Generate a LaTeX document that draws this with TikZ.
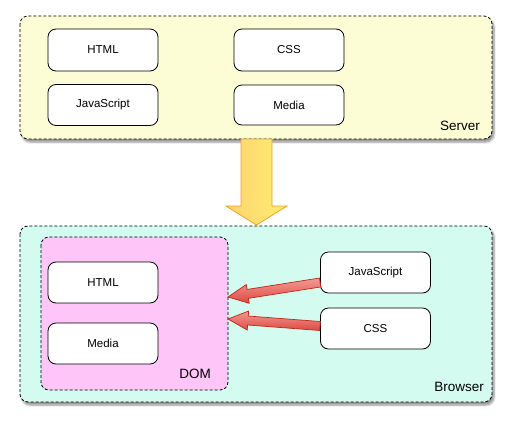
\documentclass[tikz,border=0pt]{standalone}
\usepackage{fontspec}
\setmainfont{Liberation Sans}
\usetikzlibrary{calc,shadows.blur}
\definecolor{serverfill}{HTML}{FDFDD5}
\definecolor{browserfill}{HTML}{D3FBEF}
\definecolor{domfill}{HTML}{FDC5F8}
\definecolor{arrowedge}{HTML}{F0A020}
\definecolor{arrowleft}{HTML}{FDD470}
\definecolor{arrowright}{HTML}{FFEC70}
\definecolor{redtop}{HTML}{F49A94}
\definecolor{redbot}{HTML}{DC4A42}
\definecolor{rededge}{HTML}{C02818}
\tikzset{
  dashedbox/.style={draw=black, line width=0.8pt, dash pattern=on 3pt off 2pt, rounded corners=8pt},
  container/.style={dashedbox, blur shadow={shadow xshift=2pt, shadow yshift=-3pt, shadow blur steps=6, shadow opacity=45}},
  item/.style={draw=black, line width=0.8pt, fill=white, rounded corners=8pt,
    minimum width=110pt, inner sep=0pt, font=\fontsize{11.5}{13}\selectfont},
  boxlabel/.style={anchor=base east, inner sep=0pt, font=\fontsize{13.5}{15}\selectfont},
  fatred/.style={draw=rededge, line width=0.7pt, top color=redtop, bottom color=redbot, line join=miter},
}
\begin{document}
\begin{tikzpicture}[x=1pt,y=-1pt]
\useasboundingbox (0,0) rectangle (512,426);
% Server
\path[container, fill=serverfill] (20,16) rectangle (492,139);
\node[boxlabel] (slabel) at (480,130) {Server};
\node[item, minimum height=42pt] (shtml) at (103,50) {HTML};
\node[item, minimum height=41pt] (sjs) at (103,105) {JavaScript};
\node[item, minimum height=42pt] (scss) at (289,50) {CSS};
\node[item, minimum height=40pt] (smedia) at (289,105) {Media};
% Browser
\path[container, fill=browserfill] (20,226) rectangle (492,402);
\node[boxlabel] (blabel) at (484,391) {Browser};
\path[dashedbox, fill=domfill] (41,237) rectangle (228,390);
\coordinate (domeast) at (228,313);
\node[boxlabel] (dlabel) at (211,378) {DOM};
\node[item, minimum height=41pt] (dhtml) at (103,282.5) {HTML};
\node[item, minimum height=41pt] (dmedia) at (103,343.5) {Media};
\node[item, minimum height=41pt] (bjs) at (375.5,272.5) {JavaScript};
\node[item, minimum height=41pt] (bcss) at (375.5,328.5) {CSS};
% big down arrow
\coordinate (bigtop) at (256.5,139);
\coordinate (bigtip) at (256.5,225);
\path[draw=arrowedge, line width=0.8pt, left color=arrowleft, right color=arrowright]
  ($(bigtop)+(-15.5,0)$) -- ($(bigtop)+(15.5,0)$) -- ($(bigtip)+(15.5,-19)$) -- ($(bigtip)+(30.5,-19)$)
  -- (bigtip) -- ($(bigtip)+(-30.5,-19)$) -- ($(bigtip)+(-15.5,-19)$) -- cycle;
% red arrows
\coordinate (jsa) at ($(bjs.west)+(0,10)$);
\coordinate (jsb) at ($(domeast)+(0,-16)$);
\coordinate (cssa) at ($(bcss.west)+(0,-2.5)$);
\coordinate (cssb) at ($(domeast)+(0,6)$);
\foreach \a/\b in {jsa/jsb, cssa/cssb}{
  \coordinate (h) at ($(\b)!20pt!(\a)$);
  \path[fatred] ($(\a)!4.5pt!90:(\b)$) -- ($(h)!4.5pt!90:(\b)$) -- ($(h)!9.5pt!90:(\b)$)
    -- (\b) -- ($(h)!9.5pt!-90:(\b)$) -- ($(h)!4.5pt!-90:(\b)$) -- ($(\a)!4.5pt!-90:(\b)$) -- cycle;
}
\end{tikzpicture}
\end{document}
